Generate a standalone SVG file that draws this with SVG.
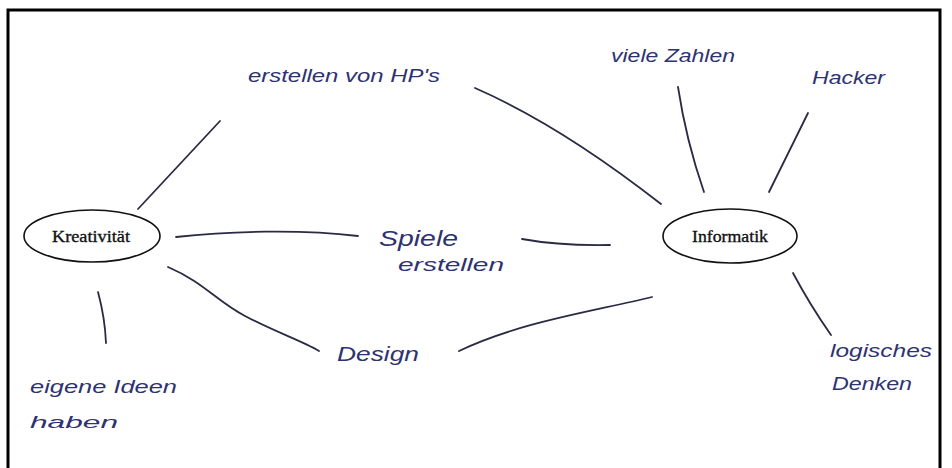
<svg xmlns="http://www.w3.org/2000/svg" width="952" height="468" viewBox="0 0 952 468">
<style>
.frame{fill:none;stroke:#000;stroke-width:3}
.node ellipse{fill:#fff;stroke:#111;stroke-width:1.6}
.node text{font-family:"Liberation Serif","Times New Roman",serif;font-size:17px;fill:#111;stroke:#111;stroke-width:0.35;text-anchor:middle}
.hand{font-family:"Liberation Sans",Arial,sans-serif;font-style:italic;font-size:19px;fill:#2e3272}
#connectors path{fill:none;stroke:#2a2a44;stroke-width:1.8;stroke-linecap:round}
</style>
<rect width="952" height="468" fill="#fff"/>
<rect class="frame" x="8" y="10" width="932" height="480"/>
<g id="connectors">
<path d="M138,209 L220,121"/>
<path d="M475,88 Q560,125 661,204"/>
<path d="M678,87 Q686,140 704,192"/>
<path d="M808,113 L769,192"/>
<path d="M176,237 C230,231 300,229 358,236"/>
<path d="M522,239 Q560,246 610,245"/>
<path d="M168,267 C205,283 215,300 245,316 S300,340 319,351"/>
<path d="M459,351 C520,322 590,312 652,297"/>
<path d="M98,292 Q105,318 106,343"/>
<path d="M793,273 Q810,305 831,335"/>
</g>
<g id="kreativitaet" class="node">
<ellipse cx="92" cy="236" rx="68" ry="26"/>
<text x="91" y="242" textLength="78" lengthAdjust="spacingAndGlyphs">Kreativität</text>
</g>
<g id="informatik" class="node">
<ellipse cx="730" cy="236" rx="67" ry="27"/>
<text x="730" y="242" textLength="76" lengthAdjust="spacingAndGlyphs">Informatik</text>
</g>
<g id="erstellen-hp">
<text class="hand" x="248" y="82" textLength="192" lengthAdjust="spacingAndGlyphs">erstellen von HP's</text>
</g>
<g id="viele-zahlen">
<text class="hand" x="611" y="62" textLength="124" lengthAdjust="spacingAndGlyphs">viele Zahlen</text>
</g>
<g id="hacker">
<text class="hand" x="812" y="84" textLength="73" lengthAdjust="spacingAndGlyphs">Hacker</text>
</g>
<g id="spiele-erstellen">
<text class="hand" x="379" y="246" textLength="79" lengthAdjust="spacingAndGlyphs" style="font-size:22px">Spiele</text>
<text class="hand" x="398" y="271" textLength="106" lengthAdjust="spacingAndGlyphs" style="font-size:18px">erstellen</text>
</g>
<g id="design">
<text class="hand" x="337" y="361" textLength="82" lengthAdjust="spacingAndGlyphs" style="font-size:21px">Design</text>
</g>
<g id="logisches-denken">
<text class="hand" x="830" y="357" textLength="102" lengthAdjust="spacingAndGlyphs" style="font-size:18px">logisches</text>
<text class="hand" x="832" y="390" textLength="80" lengthAdjust="spacingAndGlyphs">Denken</text>
</g>
<g id="eigene-ideen">
<text class="hand" x="30" y="393" textLength="147" lengthAdjust="spacingAndGlyphs" style="font-size:18px">eigene Ideen</text>
<text class="hand" x="30" y="428" textLength="88" lengthAdjust="spacingAndGlyphs" style="font-size:17px">haben</text>
</g>
</svg>
